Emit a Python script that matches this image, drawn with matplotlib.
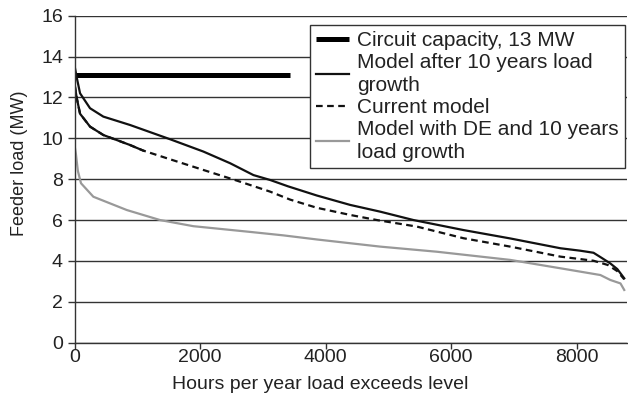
import matplotlib
matplotlib.use('Agg')
import matplotlib.pyplot as plt

plt.rcParams['font.family'] = ['Liberation Sans', 'DejaVu Sans']

# 馈线负荷持续曲线数据 (小时, MW)
capacity_hours = [0, 3430]
capacity_mw = [13.1, 13.1]

growth_hours = [0, 30, 85, 244, 456, 882, 1523, 2051, 2477, 2849, 3115, 3400, 3860,
                4391, 4870, 5400, 6198, 6943, 7743, 8060, 8270, 8400, 8537, 8650, 8760]
growth_mw = [13.5, 13.0, 12.2, 11.47, 11.06, 10.65, 9.95, 9.35, 8.78, 8.2, 7.96, 7.65, 7.2,
             6.74, 6.41, 6.0, 5.51, 5.1, 4.62, 4.5, 4.4, 4.15, 3.88, 3.6, 3.15]

current_hours = [0, 30, 85, 244, 456, 882, 1090, 1523, 2051, 2584, 3115, 3434, 3860,
                 4391, 4817, 5455, 6198, 6943, 7743, 8270, 8500, 8650, 8760]
current_mw = [12.6, 12.0, 11.2, 10.57, 10.16, 9.67, 9.4, 8.97, 8.45, 7.93, 7.39, 7.0, 6.6,
              6.25, 6.0, 5.68, 5.11, 4.70, 4.21, 4.01, 3.8, 3.5, 3.1]
current_solid_until = 7  # 前几个点在原图里是实线

de_hours = [0, 20, 50, 100, 297, 830, 1360, 1890, 2796, 3327, 3860, 4870, 5773,
            6943, 7743, 8380, 8537, 8700, 8760]
de_mw = [9.6, 9.2, 8.4, 7.8, 7.14, 6.49, 6.0, 5.7, 5.42, 5.25, 5.05, 4.70, 4.45,
         4.05, 3.64, 3.31, 3.07, 2.9, 2.58]

labels = ['Circuit capacity, 13 MW',
          'Model after 10 years load\ngrowth',
          'Current model',
          'Model with DE and 10 years\nload growth']

fig = plt.figure(figsize=(6.28, 4.01), dpi=100)
ax = fig.add_axes([0.119, 0.1454, 0.879, 0.8156])

ax.plot(capacity_hours, capacity_mw, color='black', lw=3.6, label=labels[0],
        solid_capstyle='butt')
ax.plot(growth_hours, growth_mw, color='#111111', lw=1.6, label=labels[1])
ax.plot(current_hours, current_mw, color='#111111', lw=1.6, ls=(0, (3, 2)), label=labels[2])
ax.plot(current_hours[:current_solid_until], current_mw[:current_solid_until],
        color='#111111', lw=1.6)
ax.plot(de_hours, de_mw, color='#999999', lw=1.6, label=labels[3])

ax.set_xlim(0, 8800)
ax.set_ylim(0, 16)
ax.set_xticks([0, 2000, 4000, 6000, 8000])
ax.set_yticks(range(0, 17, 2))
ax.grid(axis='y', color='#333333', lw=1.0)
ax.set_axisbelow(True)
for s in ['top', 'right']:
    ax.spines[s].set_visible(False)
for s in ['left', 'bottom']:
    ax.spines[s].set_color('#333333')
    ax.spines[s].set_linewidth(1.0)
ax.tick_params(direction='out', width=1, color='#333333',
               labelsize=14, labelcolor='#222222')
ax.tick_params(axis='y', length=5)
ax.tick_params(axis='x', length=4, pad=0.8)

ax.set_xlabel('Hours per year load exceeds level', fontsize=14, color='#222222')
ax.set_ylabel('Feeder load (MW)', fontsize=13, color='#222222')
ax.xaxis.set_label_coords(0.444, -0.103)
ax.yaxis.set_label_coords(-0.084, 0.55)

leg = ax.legend(loc='upper right', bbox_to_anchor=(1.0, 0.978), fontsize=15,
                frameon=True, fancybox=False, framealpha=1, edgecolor='#333333',
                handlelength=1.6, handletextpad=0.35, borderpad=0.3,
                labelspacing=0.15, borderaxespad=0.1)
leg.get_frame().set_linewidth(1.0)
for t in leg.get_texts():
    t.set_linespacing(1.25)
    t.set_color('#222222')

fig.savefig('out.png', dpi=100)
